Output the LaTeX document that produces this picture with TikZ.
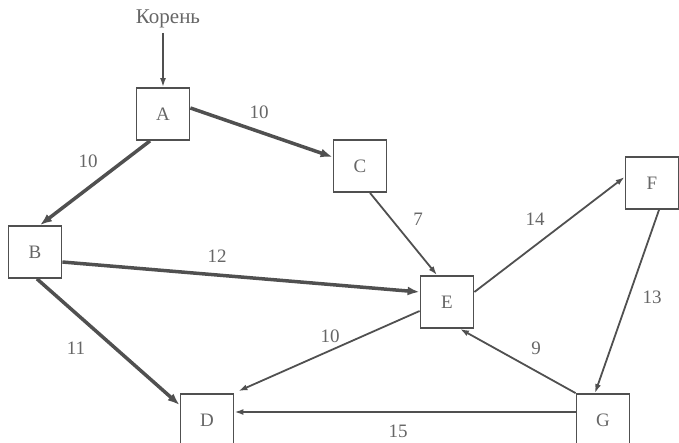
\documentclass[tikz,border=0pt]{standalone}
\usepackage{fontspec}
\setmainfont{Liberation Serif}
\usetikzlibrary{arrows.meta}
\definecolor{ink}{HTML}{505050}
\definecolor{txt}{HTML}{666666}
\tikzset{
  vbox/.style={draw=ink, line width=1.8pt, minimum width=53pt, minimum height=52pt,
    inner sep=0pt, text=txt, font=\fontsize{19}{21}\selectfont},
  heavy/.style={draw=ink, line width=3.5pt, -{Latex[length=12pt,width=9pt]}},
  light/.style={draw=ink, line width=1.8pt, -{Latex[length=9pt,width=6pt]}},
  wlabel/.style={text=txt, font=\fontsize{19}{21}\selectfont, inner sep=0pt}
}
\begin{document}
\begin{tikzpicture}[x=1pt, y=-1pt]
\useasboundingbox (0,0) rectangle (679,443);

% vertices
\node[vbox] (A) at (163,114) {A};
\node[vbox] (B) at (35,252) {B};
\node[vbox] (C) at (360,166) {C};
\node[vbox] (D) at (207,420) {D};
\node[vbox] (E) at (447,302) {E};
\node[vbox] (F) at (652,183) {F};
\node[vbox] (G) at (603,420) {G};

% root marker
\node[wlabel, font=\fontsize{21}{23}\selectfont] (root) at (168,19) {Корень};
\coordinate (R) at (163,33);
\draw[light] (R) -- (A.north);

% spanning-tree edges (heavy)
\draw[heavy] ([yshift=6pt]A.east) -- ([yshift=9pt]C.west);
\draw[heavy] ([xshift=-13pt]A.south) -- ([xshift=5pt]B.north);
\draw[heavy] ([yshift=-10pt]B.east) -- ([yshift=10pt]E.west);
\draw[heavy] ([xshift=2pt]B.south) -- ([yshift=15pt]D.west);

% remaining edges (light)
\draw[light] ([xshift=10pt]C.south) -- ([xshift=-10pt]E.north);
\draw[light] ([yshift=10pt]E.east) -- ([yshift=6pt]F.west);
\draw[light] ([xshift=7pt]F.south) -- ([xshift=-8pt]G.north);
\draw[light] (G.north west) -- ([xshift=13pt]E.south);
\draw[light] ([yshift=-9pt]E.west) -- ([xshift=4pt,yshift=2pt]D.north east);
\draw[light] ([yshift=8pt]G.west) -- ([yshift=8pt]D.east);

% weights
\node[wlabel] (wAC) at (259,112) {10};
\node[wlabel] (wAB) at (88,161) {10};
\node[wlabel] (wBE) at (217,256) {12};
\node[wlabel] (wBD) at (76,348) {11};
\node[wlabel] (wCE) at (418,219) {7};
\node[wlabel] (wEF) at (535,219) {14};
\node[wlabel] (wFG) at (652,297) {13};
\node[wlabel] (wGE) at (536,348) {9};
\node[wlabel] (wED) at (330,336) {10};
\node[wlabel] (wGD) at (398,431) {15};
\end{tikzpicture}
\end{document}
